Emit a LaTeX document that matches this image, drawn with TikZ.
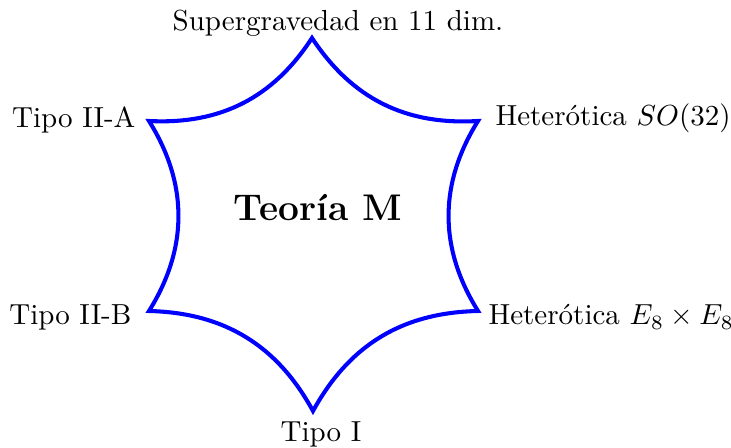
\documentclass[tikz,border=0pt]{standalone}
\begin{document}
\begin{tikzpicture}[x=0.3448pt,y=-0.3448pt,
  edge/.style={draw=blue,line width=1.4pt,line join=miter},
  lbl/.style={inner sep=0pt,font=\normalsize}]
\useasboundingbox (0,0) rectangle (731,448);
\coordinate (T) at (312,38);
\coordinate (UR) at (478,121);
\coordinate (LR) at (478,311);
\coordinate (B) at (313,411);
\coordinate (LL) at (149,311);
\coordinate (UL) at (149,121);
\draw[edge] (T) to[bend right=30] (UR) to[bend right=32] (LR)
  to[bend right=30] (B) to[bend right=30] (LL)
  to[bend right=32] (UL) to[bend right=30] (T) -- cycle;
\node[lbl,anchor=base] (sg) at (338,31) {Supergravedad en 11 dim.};
\node[lbl,anchor=base east] (t2a) at (136,128) {Tipo II-A};
\node[lbl,anchor=base west] (het1) at (495,126) {Heterótica $SO(32)$};
\node[lbl,anchor=base east] (t2b) at (132,325) {Tipo II-B};
\node[lbl,anchor=base west] (het2) at (488,325) {Heterótica $E_8\times E_8$};
\node[lbl,anchor=base] (t1) at (321,442) {Tipo I};
\node[lbl,anchor=base,font=\fontsize{12.8}{15}\selectfont\bfseries] (m) at (318,221) {Teoría M};
\end{tikzpicture}
\end{document}
